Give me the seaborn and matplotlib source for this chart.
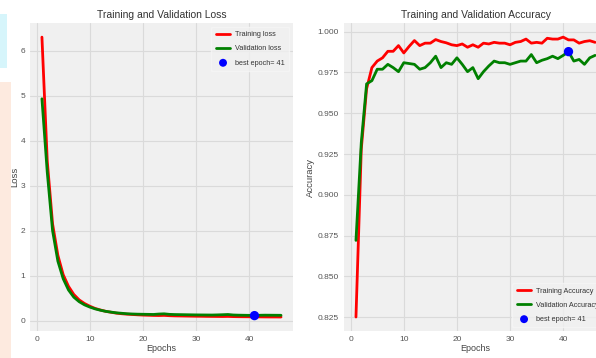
import numpy as np
import pandas as pd
import seaborn as sns
import matplotlib
matplotlib.use("Agg")
import matplotlib.pyplot as plt
from matplotlib import font_manager
from matplotlib.patches import Rectangle

# ---------------- data ----------------
epochs = list(range(1, 47))
train_loss = [6.30, 3.55, 2.15, 1.45, 1.02, 0.76, 0.58, 0.46, 0.38, 0.32,
              0.27, 0.235, 0.205, 0.185, 0.165, 0.152, 0.142, 0.135, 0.128, 0.122,
              0.118, 0.114, 0.112, 0.115, 0.108, 0.104, 0.102, 0.100, 0.098, 0.096,
              0.095, 0.093, 0.092, 0.091, 0.090, 0.092, 0.088, 0.086, 0.085, 0.084,
              0.083, 0.082, 0.081, 0.080, 0.080, 0.079]
val_loss = [4.93, 3.30, 2.00, 1.32, 0.93, 0.68, 0.52, 0.42, 0.35, 0.30,
            0.26, 0.23, 0.205, 0.188, 0.172, 0.162, 0.152, 0.146, 0.142, 0.140,
            0.138, 0.136, 0.145, 0.150, 0.138, 0.134, 0.132, 0.130, 0.128, 0.126,
            0.125, 0.124, 0.123, 0.126, 0.130, 0.135, 0.124, 0.120, 0.118, 0.116,
            0.110, 0.118, 0.120, 0.119, 0.118, 0.117]
train_acc = [0.825, 0.928, 0.965, 0.978, 0.982, 0.984, 0.988, 0.988, 0.9915, 0.987,
             0.991, 0.9946, 0.9915, 0.993, 0.993, 0.9952, 0.994, 0.9932, 0.992, 0.9915,
             0.9925, 0.9905, 0.992, 0.9905, 0.993, 0.9925, 0.9935, 0.993, 0.993, 0.992,
             0.9935, 0.994, 0.9955, 0.993, 0.9935, 0.993, 0.996, 0.9955, 0.9955, 0.9967,
             0.995, 0.995, 0.993, 0.994, 0.9945, 0.9935]
val_acc = [0.872, 0.932, 0.968, 0.970, 0.977, 0.977, 0.980, 0.978, 0.9755, 0.981,
           0.9805, 0.980, 0.977, 0.978, 0.981, 0.985, 0.978, 0.981, 0.980, 0.984,
           0.980, 0.9755, 0.978, 0.9712, 0.9755, 0.979, 0.982, 0.981, 0.981, 0.980,
           0.981, 0.982, 0.982, 0.986, 0.981, 0.9825, 0.9835, 0.985, 0.9835, 0.9855,
           0.9878, 0.982, 0.983, 0.980, 0.984, 0.9855]
best_epoch = 41
best_label = "best epoch= " + str(best_epoch)

df = pd.DataFrame({"epoch": epochs, "train_loss": train_loss, "val_loss": val_loss,
                   "train_acc": train_acc, "val_acc": val_acc})

# ---------------- style ----------------
sns.set_style("darkgrid", {"axes.facecolor": "#f0f0f0", "grid.color": "#dadada",
                           "axes.edgecolor": "#f0f0f0"})
names = {f.name for f in font_manager.fontManager.ttflist}
narrow = "Liberation Sans Narrow" if "Liberation Sans Narrow" in names else "Liberation Sans"
plt.rcParams["font.family"] = [narrow, "DejaVu Sans"]
plt.rcParams["text.color"] = "#333333"
plt.rcParams["axes.labelcolor"] = "#444444"
plt.rcParams["xtick.color"] = "#555555"
plt.rcParams["ytick.color"] = "#555555"

fig = plt.figure(figsize=(5.96, 3.58), dpi=100, facecolor="white")

# faint watermark patches on the left edge
fig.patches.append(Rectangle((0, 0.81), 0.012, 0.15, transform=fig.transFigure,
                             facecolor="#d6f5fb", edgecolor="none", zorder=0))
fig.patches.append(Rectangle((0, 0.0), 0.018, 0.77, transform=fig.transFigure,
                             facecolor="#fdeadf", edgecolor="none", zorder=0))

ax1 = fig.add_axes([0.0503, 0.0754, 0.4413, 0.860])
ax2 = fig.add_axes([0.5772, 0.0754, 0.4413, 0.860])

lw = 2.0
leg_kw = dict(fontsize=5.2, frameon=True, facecolor="#f0f0f0", edgecolor="#f6f6f6",
              handlelength=2.0, labelspacing=1.0, borderpad=0.6, markerscale=0.85,
              handletextpad=0.7)

# ---- loss ----
sns.lineplot(data=df, x="epoch", y="train_loss", color="red", linewidth=lw,
             label="Training loss", ax=ax1)
sns.lineplot(data=df, x="epoch", y="val_loss", color="green", linewidth=lw,
             label="Validation loss", ax=ax1)
sns.scatterplot(x=[best_epoch], y=[val_loss[best_epoch - 1]], s=45, color="blue",
                edgecolor="none", label=best_label, ax=ax1, zorder=5)
ax1.set_title("Training and Validation Loss", fontsize=7.5, pad=4)
ax1.set_xlabel("Epochs", fontsize=6.5, labelpad=1)
ax1.set_ylabel("Loss", fontsize=6.8, labelpad=0.5)
ax1.set_xticks([0, 10, 20, 30, 40])
ax1.set_yticks([0, 1, 2, 3, 4, 5, 6])
ax1.tick_params(labelsize=6, length=0, pad=3.5)
ax1.legend(loc="upper right", **leg_kw)

# ---- accuracy ----
sns.lineplot(data=df, x="epoch", y="train_acc", color="red", linewidth=lw,
             label="Training Accuracy", ax=ax2)
sns.lineplot(data=df, x="epoch", y="val_acc", color="green", linewidth=lw,
             label="Validation Accuracy", ax=ax2)
sns.scatterplot(x=[best_epoch], y=[val_acc[best_epoch - 1]], s=45, color="blue",
                edgecolor="none", label=best_label, ax=ax2, zorder=5)
ax2.set_title("Training and Validation Accuracy", fontsize=7.5, pad=4)
ax2.set_xlabel("Epochs", fontsize=6.5, labelpad=1)
ax2.set_ylabel("Accuracy", fontsize=6.8, labelpad=2)
ax2.set_xticks([0, 10, 20, 30, 40])
ax2.set_yticks([0.825, 0.850, 0.875, 0.900, 0.925, 0.950, 0.975, 1.000])
ax2.yaxis.set_major_formatter(matplotlib.ticker.FormatStrFormatter("%.3f"))
ax2.tick_params(labelsize=6, length=0, pad=3.5)
ax2.legend(loc="lower right", **leg_kw)

for ax in (ax1, ax2):
    for s in ax.spines.values():
        s.set_visible(False)

fig.savefig("out.png", dpi=100, facecolor="white")
